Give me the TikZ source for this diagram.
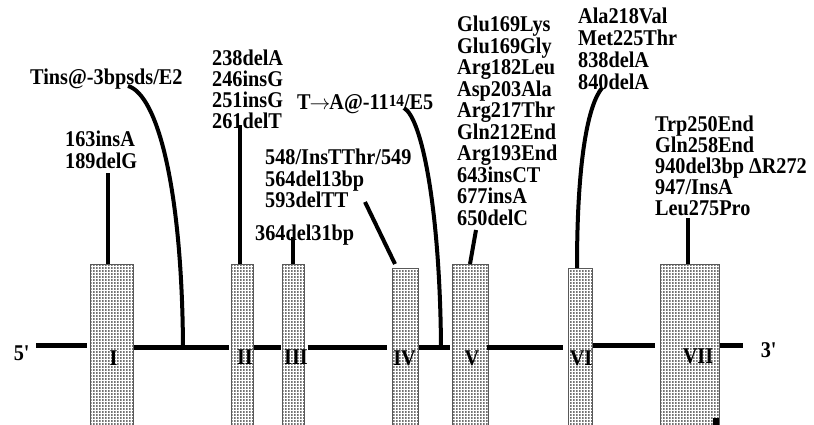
\documentclass[tikz,border=0pt]{standalone}
\usepackage{fontspec}
\setmainfont{Liberation Serif}[FakeStretch=0.9]
\usetikzlibrary{patterns}

\pgfdeclarepatternformonly{exondots}{\pgfqpoint{0pt}{0pt}}{\pgfqpoint{1.5pt}{1.5pt}}{\pgfqpoint{3pt}{3pt}}{%
  \pgfpathrectangle{\pgfqpoint{0pt}{0pt}}{\pgfqpoint{1.5pt}{1.5pt}}%
  \pgfusepath{fill}}

\begin{document}
\begin{tikzpicture}[
    x=1pt, y=-1pt,
    mutlabel/.style={
        anchor=north west,
        inner sep=0pt,
        align=left,
        font=\bfseries\fontsize{22.5}{21.5}\selectfont
    },
    exonbox/.style={
        rectangle,
        anchor=north,
        draw=black!65,
        line width=1pt,
        inner sep=0pt,
        preaction={fill=white},
        pattern=exondots,
        pattern color=black!55
    },
    exonlabel/.style={
        inner sep=0pt,
        font=\bfseries\fontsize{22.5}{22.5}\selectfont
    },
    endlabel/.style={
        inner sep=0pt,
        font=\bfseries\fontsize{22.5}{22.5}\selectfont
    },
    stem/.style={
        line width=4pt,
        draw=black
    },
    backbone/.style={
        line width=5pt,
        draw=black
    }
]
\useasboundingbox (0,0) rectangle (814,425);

% =========================================================
% Exons
% =========================================================
\node[exonbox, minimum width=43pt, minimum height=166pt] (ex1) at (111.5,264) {};
\node[exonbox, minimum width=22pt, minimum height=166pt] (ex2) at (242,264) {};
\node[exonbox, minimum width=22pt, minimum height=166pt] (ex3) at (293,264) {};
\node[exonbox, minimum width=26pt, minimum height=162pt] (ex4) at (405,268) {};
\node[exonbox, minimum width=36pt, minimum height=166pt] (ex5) at (470,264) {};
\node[exonbox, minimum width=24pt, minimum height=162pt] (ex6) at (580,268) {};
\node[exonbox, minimum width=59pt, minimum height=166pt] (ex7) at (689.5,264) {};
\fill (713,418) rectangle (719,426);

\node[exonlabel] (lab1) at (113.5,358) {I};
\node[exonlabel] (lab2) at (245,357) {II};
\node[exonlabel] (lab3) at (296,357) {III};
\node[exonlabel] (lab4) at (404.5,358) {IV};
\node[exonlabel] (lab5) at (472,358) {V};
\node[exonlabel] (lab6) at (581,358) {VI};
\node[exonlabel] (lab7) at (698,356) {VII};

\node[endlabel] (five) at (22,353) {5\textquotesingle};
\node[endlabel] (three) at (769,350) {3\textquotesingle};

% =========================================================
% Backbone
% =========================================================
\coordinate (axis) at (0,347);
\coordinate (axisb) at (0,345);
\draw[backbone, shorten <=6pt, shorten >=3pt] (five.east |- axisb) -- (ex1.west |- axisb);
\draw[backbone, shorten >=2pt] (ex1.east |- axis) -- (ex2.west |- axis);
\draw[backbone, shorten >=1pt] (ex2.east |- axis) -- (ex3.west |- axis);
\draw[backbone, shorten <=3pt, shorten >=5pt] (ex3.east |- axis) -- (ex4.west |- axis);
\draw[backbone, shorten >=2pt] (ex4.east |- axis) -- (ex5.west |- axis);
\draw[backbone, shorten <=-2pt, shorten >=5pt] (ex5.east |- axis) -- (ex6.west |- axis);
\draw[backbone, shorten >=5pt] (ex6.east |- axisb) -- (ex7.west |- axisb);
\draw[backbone, shorten >=18pt] (ex7.east |- axisb) -- (three.west |- axisb);

% =========================================================
% Mutations
% =========================================================
\node[mutlabel] (mut1) at (65,131) {163insA\\189delG};
\node[mutlabel] (tins) at (30,69) {Tins@-3bpsds/E2};
\node[mutlabel, font=\bfseries\fontsize{22.5}{21}\selectfont] (mut2) at (212,50)
{238delA\\246insG\\251insG\\261delT};
\node[mutlabel] (tA) at (297,94)
{T\kern-1pt$\rightarrow$\kern-1ptA@-11\raisebox{3pt}{\fontsize{17}{17}\selectfont 14}/E5};
\node[mutlabel] (mut4) at (265,149) {548/InsTThr/549\\564del13bp\\593delTT};
\node[mutlabel] (mut3) at (255,225) {364del31bp};
\node[mutlabel] (mut5) at (457,16)
{Glu169Lys\\Glu169Gly\\Arg182Leu\\Asp203Ala\\Arg217Thr\\Gln212End\\Arg193End\\643insCT\\677insA\\650delC};
\node[mutlabel, font=\bfseries\fontsize{22.5}{22}\selectfont] (mut6) at (578,8)
{Ala218Val\\Met225Thr\\838delA\\840delA};
\node[mutlabel, font=\bfseries\fontsize{22.5}{21}\selectfont] (mut7) at (655,116)
{Trp250End\\Gln258End\\940del3bp ΔR272\\947/InsA\\Leu275Pro};

% =========================================================
% Connectors
% =========================================================
\coordinate (tinsTip) at (128,86);
\coordinate (tinsFoot) at (183,347);
\coordinate (tATip) at (404,108);
\coordinate (tAFoot) at (441,347);
\coordinate (mut4Tip) at (365,202);
\coordinate (mut6Tip) at (602,88);

\draw[stem] ([xshift=-3.5pt]ex1.north) -- ++(0,-91);
\draw[stem] (tinsTip) .. controls (158,95) and (182,190) .. (tinsFoot);
\draw[stem] ([xshift=-2pt]ex2.north) -- ++(0,-139);
\draw[stem] (ex3.north) -- ++(0,-27);
\draw[stem] ([xshift=-10pt,yshift=4pt]ex4.north) -- (mut4Tip);
\draw[stem] (tATip) .. controls (422,118) and (440,210) .. (tAFoot);
\draw[stem] (ex5.north) -- ++(6,-34);
\draw[stem] (mut6Tip) .. controls (588,105) and (577,160) .. ([xshift=-3pt]ex6.north);
\draw[stem] ([xshift=-1.5pt]ex7.north) -- ++(0,-46);

\end{tikzpicture}
\end{document}
